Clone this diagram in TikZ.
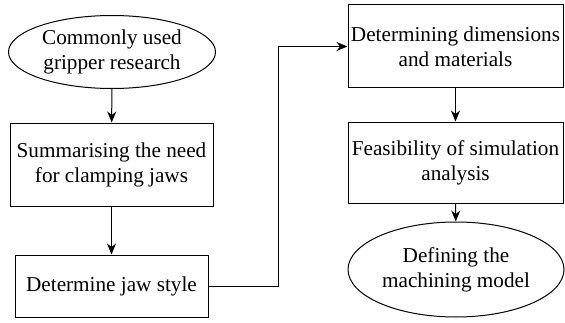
\documentclass[tikz,border=0pt]{standalone}
\usepackage{fontspec}
\setmainfont{Liberation Serif}
\usetikzlibrary{shapes.geometric,arrows.meta}
\tikzset{
    stepbox/.style={draw, line width=1pt, align=center, inner sep=1pt},
    endpoint/.style={draw, ellipse, line width=1pt, align=center, inner sep=0pt},
    arr/.style={line width=1pt, -{Stealth[length=11pt,width=9pt]}}
}
\begin{document}
\begin{tikzpicture}[x=1pt,y=1pt,font=\fontsize{21.2}{25}\selectfont]
    \useasboundingbox (0,0) rectangle (565,322);
    % Left column
    \node[endpoint, minimum width=207, minimum height=73] (start) at (112,270) {Commonly used\\gripper research};
    \node[stepbox, minimum width=203, minimum height=83] (need) at (111.5,157.5) {Summarising the need\\for clamping jaws};
    \node[stepbox, minimum width=193, minimum height=62] (style) at (111.5,36) {Determine jaw style};
    % Right column
    \node[stepbox, minimum width=215, minimum height=83] (dims) at (455.5,275.5) {Determining dimensions\\and materials};
    \node[stepbox, minimum width=215, minimum height=81] (feas) at (455.5,159.5) {Feasibility of simulation\\analysis};
    \node[endpoint, minimum width=216, minimum height=95] (model) at (456,52.5) {Defining the\\machining model};
    \coordinate (turn) at (278,0);
    
    \draw[arr] (start) -- (need);
    \draw[arr] (need) -- (style);
    \draw[arr] (style.east) -- (style.east -| turn) |- (dims.west);
    \draw[arr] (dims) -- (feas);
    \draw[arr] (feas) -- (model);
\end{tikzpicture}
\end{document}
